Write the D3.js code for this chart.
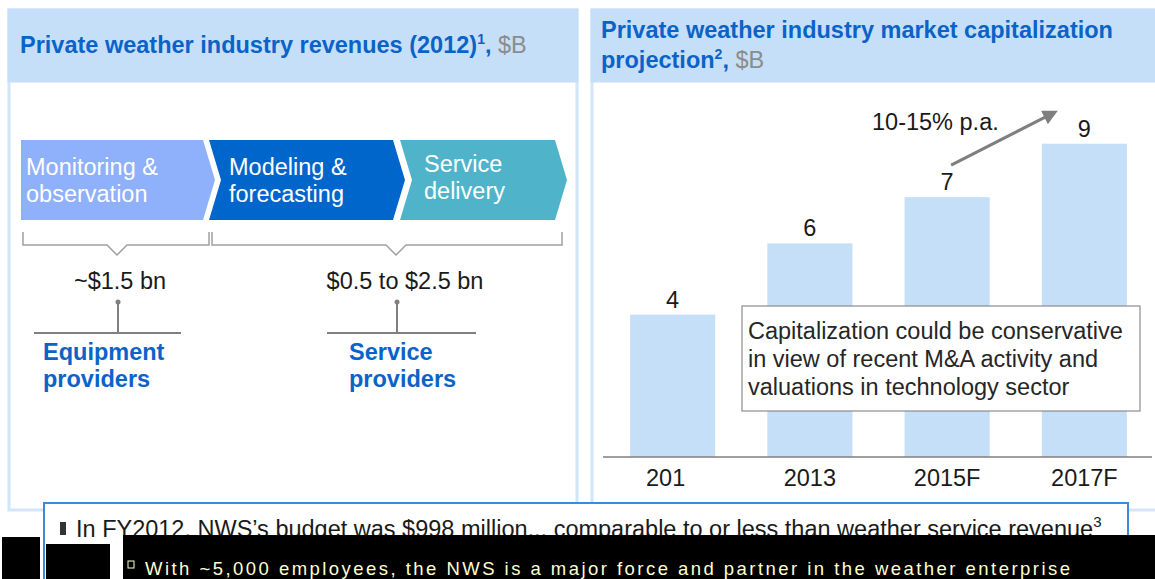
<!DOCTYPE html>
<html><head><meta charset="utf-8">
<script src="https://cdn.jsdelivr.net/npm/d3@7/dist/d3.min.js"></script>
<style>
body{margin:0;background:#fff;}
svg{display:block;font-family:"Liberation Sans",Arial,sans-serif;}
</style></head>
<body><svg id="c" width="1155" height="579"></svg>
<script>
// ---- data ----
const years = ["201", "2013", "2015F", "2017F"];
const capValues = [4.0, 6.0, 7.3, 8.8];
const growthLabel = "10-15% p.a.";
const stages = ["Monitoring &|observation", "Modeling &|forecasting", "Service|delivery"];
const segmentAmounts = ["~$1.5 bn", "$0.5 to $2.5 bn"];
const segmentNames = ["Equipment|providers", "Service|providers"];
const calloutLines = ["Capitalization could be conservative", "in view of recent M&A activity and", "valuations in technology sector"];
const noteLine1 = "In FY2012, NWS\u2019s budget was $998 million... comparable to or less than weather service revenue";
const noteLine2 = "With ~5,000 employees, the NWS is a major force and partner in the weather enterprise";

const svg = d3.select("#c");
const lightBlue = "#c6dff8";
const titleBlue = "#0a63c9";
const FS = 23.5;

// ---- panels ----
function panel(x, w, y, h) {
  svg.append("rect").attr("x", x).attr("y", y).attr("width", w).attr("height", h)
    .attr("fill", "#fff").attr("stroke", "#d3e5f8").attr("stroke-width", 3);
  svg.append("rect").attr("x", x - 1.5).attr("y", y - 1.5).attr("width", w + 3).attr("height", 74)
    .attr("fill", lightBlue);
}
panel(9, 568, 10, 500);
panel(592, 570, 10, 500);

// titles
const t1 = svg.append("text").attr("x", 20).attr("y", 53).attr("font-size", FS).attr("font-weight", "bold").attr("fill", titleBlue);
t1.append("tspan").text("Private weather industry revenues (2012)");
t1.append("tspan").attr("font-size", 14).attr("dy", -9).text("1");
t1.append("tspan").attr("dy", 9).text(", ");
t1.append("tspan").attr("font-weight", "normal").attr("fill", "#8c8c8c").text("$B");

const t2 = svg.append("text").attr("x", 601).attr("y", 38).attr("font-size", FS).attr("font-weight", "bold").attr("fill", titleBlue);
t2.append("tspan").text("Private weather industry market capitalization");
const t2b = svg.append("text").attr("x", 601).attr("y", 68).attr("font-size", FS).attr("font-weight", "bold").attr("fill", titleBlue);
t2b.append("tspan").text("projection");
t2b.append("tspan").attr("font-size", 14).attr("dy", -9).text("2");
t2b.append("tspan").attr("dy", 9).text(", ");
t2b.append("tspan").attr("font-weight", "normal").attr("fill", "#8c8c8c").text("$B");

// ---- left: value chain ----
const chev = [
  {x0: 21, x1: 203, tip: 215, notch: 0, fill: "#8fb0fa"},
  {x0: 209, x1: 393, tip: 405, notch: 12, fill: "#0066cc"},
  {x0: 400, x1: 555, tip: 567, notch: 12, fill: "#4fb4c9"}
];
const cy0 = 140, cy1 = 220, cym = 180;
chev.forEach((c, i) => {
  const pts = [[c.x0, cy0], [c.x1, cy0], [c.tip, cym], [c.x1, cy1], [c.x0, cy1], [c.x0 + c.notch, cym]];
  svg.append("polygon").attr("points", pts.map(p => p.join(",")).join(" ")).attr("fill", c.fill);
  const lines = stages[i].split("|");
  const tx = [26, 229, 424][i];
  const ty = [175, 175, 172][i];
  lines.forEach((l, j) => {
    svg.append("text").attr("x", tx).attr("y", ty + j * 26.5).attr("font-size", FS)
      .attr("fill", "#fff").text(l);
  });
});

// brackets
const brackets = [{a: 23, b: 209, m: 117}, {a: 212, b: 562, m: 396}];
brackets.forEach(b => {
  svg.append("path")
    .attr("d", `M${b.a},232 V245 H${b.m - 10} L${b.m},255 L${b.m + 10},245 H${b.b} V232`)
    .attr("fill", "none").attr("stroke", "#a0a0a0").attr("stroke-width", 1.5);
});

// amounts + lollipops
const segs = [
  {cx: 120, dot: 118, h0: 34, h1: 181, nameX: 43},
  {cx: 405, dot: 397, h0: 327, h1: 476, nameX: 349}
];
segs.forEach((s, i) => {
  svg.append("text").attr("x", s.cx).attr("y", 289).attr("text-anchor", "middle")
    .attr("font-size", FS).attr("fill", "#1a1a1a").text(segmentAmounts[i]);
  svg.append("line").attr("x1", s.dot).attr("x2", s.dot).attr("y1", 302).attr("y2", 332)
    .attr("stroke", "#808080").attr("stroke-width", 2);
  svg.append("circle").attr("cx", s.dot).attr("cy", 302).attr("r", 2.5).attr("fill", "#808080");
  svg.append("line").attr("x1", s.h0).attr("x2", s.h1).attr("y1", 333).attr("y2", 333)
    .attr("stroke", "#808080").attr("stroke-width", 2);
  segmentNames[i].split("|").forEach((l, j) => {
    svg.append("text").attr("x", s.nameX).attr("y", 360 + j * 27).attr("font-size", FS)
      .attr("font-weight", "bold").attr("fill", titleBlue).text(l);
  });
});

// ---- right: bar chart ----
const x = d3.scaleBand().domain(years).range([604, 1153]).paddingInner(0.38).paddingOuter(0.19);
const y = d3.scaleLinear().domain([0, 10]).range([457, 101]);
const fmt = d3.format(".0f");

svg.append("g").selectAll("rect").data(years).join("rect")
  .attr("x", d => x(d)).attr("width", x.bandwidth())
  .attr("y", (d, i) => y(capValues[i])).attr("height", (d, i) => y(0) - y(capValues[i]))
  .attr("fill", "#c6dff8");

svg.append("g").selectAll("text").data(years).join("text")
  .attr("x", d => x(d) + x.bandwidth() / 2).attr("y", (d, i) => y(capValues[i]) - 7)
  .attr("text-anchor", "middle").attr("font-size", FS).attr("fill", "#1a1a1a")
  .text((d, i) => fmt(capValues[i]));

const xAxis = svg.append("g").attr("transform", `translate(0,${y(0)})`)
  .call(d3.axisBottom(x).tickSize(0).tickPadding(12));
xAxis.select(".domain").attr("stroke", "#7f7f7f").attr("stroke-width", 1.5).attr("d", "M603,0H1152");
xAxis.selectAll("text").attr("font-size", FS).attr("fill", "#1a1a1a")
  .attr("font-family", "Liberation Sans, Arial, sans-serif");
// first label is a truncated "2011": keep its left edge where the full label would start
xAxis.selectAll(".tick").filter((d, i) => i === 0).select("text").attr("dx", -7);

// growth arrow
svg.append("defs").append("marker").attr("id", "ah").attr("viewBox", "0 0 10 10")
  .attr("refX", 5).attr("refY", 5).attr("markerWidth", 5).attr("markerHeight", 5).attr("orient", "auto")
  .append("path").attr("d", "M0,0 L10,5 L0,10 Z").attr("fill", "#7f7f7f");
const ax0 = x(years[2]) + x.bandwidth() / 2 + 4, ay0 = y(capValues[2]) - 32;
svg.append("line").attr("x1", ax0).attr("y1", ay0).attr("x2", ax0 + 100).attr("y2", ay0 - 51)
  .attr("stroke", "#7f7f7f").attr("stroke-width", 3).attr("marker-end", "url(#ah)");
svg.append("text").attr("x", 872).attr("y", 130).attr("font-size", FS).attr("fill", "#1a1a1a").text(growthLabel);

// callout
svg.append("rect").attr("x", 742).attr("y", 306).attr("width", 398).attr("height", 105)
  .attr("fill", "#fff").attr("stroke", "#8c8c8c").attr("stroke-width", 1.2);
calloutLines.forEach((l, i) => {
  svg.append("text").attr("x", 748).attr("y", 339 + i * 28).attr("font-size", FS)
    .attr("fill", "#262626").text(l);
});

// ---- bottom note box ----
svg.append("rect").attr("x", 44).attr("y", 503).attr("width", 1084).attr("height", 80)
  .attr("fill", "#fff").attr("stroke", "#3f8ad8").attr("stroke-width", 2);
svg.append("rect").attr("x", 60).attr("y", 522).attr("width", 6).attr("height", 13).attr("fill", "#333");
const n1 = svg.append("text").attr("x", 76).attr("y", 537).attr("font-size", FS).attr("fill", "#1a1a1a");
n1.append("tspan").text(noteLine1);
n1.append("tspan").attr("font-size", 15).attr("dy", -10).text("3");

// black artefact band
svg.append("rect").attr("x", 2).attr("y", 537).attr("width", 38).attr("height", 42).attr("fill", "#000");
svg.append("rect").attr("x", 46).attr("y", 544).attr("width", 64).attr("height", 35).attr("fill", "#000");
svg.append("rect").attr("x", 123).attr("y", 535).attr("width", 1032).attr("height", 44).attr("fill", "#000");
svg.append("rect").attr("x", 128).attr("y", 561).attr("width", 6).attr("height", 7)
  .attr("fill", "none").attr("stroke", "#ffffcc").attr("stroke-width", 1);
svg.append("text").attr("x", 145).attr("y", 575).attr("font-size", 18.5).attr("fill", "#ffffd0")
  .attr("textLength", 925).text(noteLine2);
</script></body></html>
